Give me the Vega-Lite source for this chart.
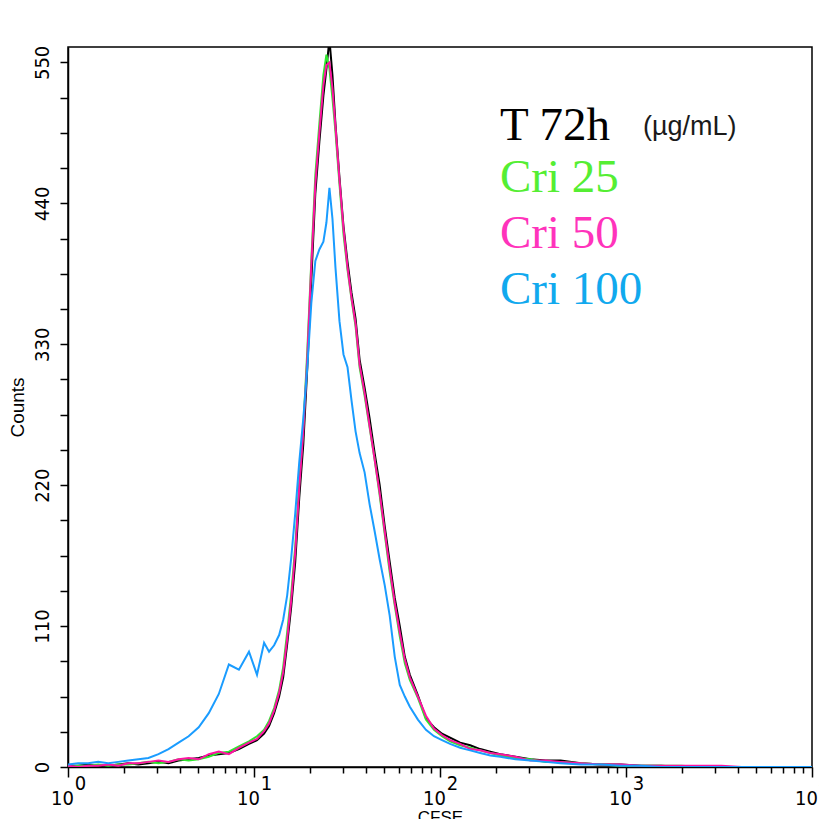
{
  "$schema": "https://vega.github.io/schema/vega-lite/v6.json",
  "width": 744,
  "height": 720,
  "autosize": {"type": "none"},
  "padding": {"left": 68, "top": 47, "right": 7, "bottom": 52},
  "background": "white",
  "config": {"view": {"stroke": "black", "strokeWidth": 1.5, "fill": "white"}},
  "title": {"text": "(µg/mL)", "orient": "top", "anchor": "start", "frame": "group", "font": "Liberation Sans", "fontSize": 27, "fontWeight": "normal", "color": "#1a1a1a", "baseline": "alphabetic", "offset": 0, "dx": 575, "dy": 117},
  "data": {"values": [
    {"x": 1.0, "T 72h": 1, "Cri 25": 0, "Cri 50": 1, "Cri 100": 2},
    {"x": 1.133, "T 72h": 1, "Cri 25": 1, "Cri 50": 0, "Cri 100": 3},
    {"x": 1.283, "T 72h": 2, "Cri 25": 1, "Cri 50": 1, "Cri 100": 3},
    {"x": 1.453, "T 72h": 1, "Cri 25": 2, "Cri 50": 1, "Cri 100": 4},
    {"x": 1.645, "T 72h": 1, "Cri 25": 1, "Cri 50": 2, "Cri 100": 3},
    {"x": 1.864, "T 72h": 2, "Cri 25": 2, "Cri 50": 1, "Cri 100": 4},
    {"x": 2.11, "T 72h": 3, "Cri 25": 2, "Cri 50": 3, "Cri 100": 5},
    {"x": 2.39, "T 72h": 2, "Cri 25": 3, "Cri 50": 3, "Cri 100": 6},
    {"x": 2.706, "T 72h": 3, "Cri 25": 4, "Cri 50": 4, "Cri 100": 7},
    {"x": 3.065, "T 72h": 4, "Cri 25": 3, "Cri 50": 5, "Cri 100": 10},
    {"x": 3.471, "T 72h": 3, "Cri 25": 4, "Cri 50": 4, "Cri 100": 14},
    {"x": 3.932, "T 72h": 5, "Cri 25": 6, "Cri 50": 6, "Cri 100": 19},
    {"x": 4.453, "T 72h": 6, "Cri 25": 5, "Cri 50": 7, "Cri 100": 24},
    {"x": 5.043, "T 72h": 7, "Cri 25": 6, "Cri 50": 6, "Cri 100": 31},
    {"x": 5.712, "T 72h": 9, "Cri 25": 8, "Cri 50": 10, "Cri 100": 42},
    {"x": 6.469, "T 72h": 10, "Cri 25": 11, "Cri 50": 12, "Cri 100": 57},
    {"x": 7.327, "T 72h": 11, "Cri 25": 12, "Cri 50": 10, "Cri 100": 80},
    {"x": 8.297, "T 72h": 14, "Cri 25": 16, "Cri 50": 15, "Cri 100": 76},
    {"x": 9.397, "T 72h": 18, "Cri 25": 20, "Cri 50": 19, "Cri 100": 90},
    {"x": 10.38, "T 72h": 21, "Cri 25": 24, "Cri 50": 22, "Cri 100": 72},
    {"x": 11.33, "T 72h": 26, "Cri 25": 29, "Cri 50": 28, "Cri 100": 97},
    {"x": 12.05, "T 72h": 32, "Cri 25": 36, "Cri 50": 34, "Cri 100": 90},
    {"x": 12.83, "T 72h": 42, "Cri 25": 46, "Cri 50": 44, "Cri 100": 95},
    {"x": 13.65, "T 72h": 55, "Cri 25": 60, "Cri 50": 58, "Cri 100": 103},
    {"x": 14.35, "T 72h": 70, "Cri 25": 78, "Cri 50": 74, "Cri 100": 115},
    {"x": 15.08, "T 72h": 96, "Cri 25": 105, "Cri 50": 100, "Cri 100": 134},
    {"x": 15.85, "T 72h": 125, "Cri 25": 135, "Cri 50": 130, "Cri 100": 163},
    {"x": 16.66, "T 72h": 160, "Cri 25": 172, "Cri 50": 168, "Cri 100": 198},
    {"x": 17.51, "T 72h": 210, "Cri 25": 222, "Cri 50": 218, "Cri 100": 238},
    {"x": 18.41, "T 72h": 252, "Cri 25": 265, "Cri 50": 262, "Cri 100": 272},
    {"x": 19.35, "T 72h": 312, "Cri 25": 325, "Cri 50": 320, "Cri 100": 312},
    {"x": 20.33, "T 72h": 380, "Cri 25": 395, "Cri 50": 392, "Cri 100": 362},
    {"x": 21.37, "T 72h": 448, "Cri 25": 462, "Cri 50": 455, "Cri 100": 395},
    {"x": 22.46, "T 72h": 488, "Cri 25": 502, "Cri 50": 495, "Cri 100": 404},
    {"x": 23.61, "T 72h": 524, "Cri 25": 540, "Cri 50": 532, "Cri 100": 410},
    {"x": 24.51, "T 72h": 545, "Cri 25": 556, "Cri 50": 548, "Cri 100": 425},
    {"x": 25.44, "T 72h": 568, "Cri 25": 545, "Cri 50": 550, "Cri 100": 452},
    {"x": 26.41, "T 72h": 540, "Cri 25": 522, "Cri 50": 530, "Cri 100": 428},
    {"x": 27.41, "T 72h": 502, "Cri 25": 496, "Cri 50": 500, "Cri 100": 390},
    {"x": 28.81, "T 72h": 460, "Cri 25": 455, "Cri 50": 458, "Cri 100": 348},
    {"x": 30.28, "T 72h": 422, "Cri 25": 416, "Cri 50": 420, "Cri 100": 322},
    {"x": 31.83, "T 72h": 394, "Cri 25": 388, "Cri 50": 390, "Cri 100": 312},
    {"x": 33.45, "T 72h": 370, "Cri 25": 365, "Cri 50": 366, "Cri 100": 286},
    {"x": 35.16, "T 72h": 350, "Cri 25": 344, "Cri 50": 346, "Cri 100": 262},
    {"x": 36.96, "T 72h": 318, "Cri 25": 312, "Cri 50": 314, "Cri 100": 245},
    {"x": 39.32, "T 72h": 296, "Cri 25": 290, "Cri 50": 292, "Cri 100": 230},
    {"x": 41.84, "T 72h": 272, "Cri 25": 265, "Cri 50": 266, "Cri 100": 205},
    {"x": 44.53, "T 72h": 245, "Cri 25": 240, "Cri 50": 240, "Cri 100": 184},
    {"x": 47.39, "T 72h": 220, "Cri 25": 212, "Cri 50": 214, "Cri 100": 162},
    {"x": 50.43, "T 72h": 188, "Cri 25": 182, "Cri 50": 184, "Cri 100": 142},
    {"x": 53.67, "T 72h": 160, "Cri 25": 152, "Cri 50": 155, "Cri 100": 118},
    {"x": 57.12, "T 72h": 132, "Cri 25": 126, "Cri 50": 128, "Cri 100": 86},
    {"x": 60.78, "T 72h": 110, "Cri 25": 102, "Cri 50": 105, "Cri 100": 64},
    {"x": 64.69, "T 72h": 86, "Cri 25": 81, "Cri 50": 84, "Cri 100": 55},
    {"x": 68.84, "T 72h": 72, "Cri 25": 68, "Cri 50": 70, "Cri 100": 47},
    {"x": 76.05, "T 72h": 56, "Cri 25": 54, "Cri 50": 55, "Cri 100": 37},
    {"x": 84.01, "T 72h": 38, "Cri 25": 37, "Cri 50": 40, "Cri 100": 29},
    {"x": 92.82, "T 72h": 31, "Cri 25": 29, "Cri 50": 30, "Cri 100": 24},
    {"x": 102.5, "T 72h": 26, "Cri 25": 24, "Cri 50": 25, "Cri 100": 21},
    {"x": 113.3, "T 72h": 23, "Cri 25": 20, "Cri 50": 21, "Cri 100": 18},
    {"x": 128.3, "T 72h": 19, "Cri 25": 17, "Cri 50": 18, "Cri 100": 15},
    {"x": 145.3, "T 72h": 17, "Cri 25": 15, "Cri 50": 14, "Cri 100": 13},
    {"x": 164.5, "T 72h": 14, "Cri 25": 13, "Cri 50": 13, "Cri 100": 11},
    {"x": 186.4, "T 72h": 12, "Cri 25": 11, "Cri 50": 11, "Cri 100": 9},
    {"x": 211.0, "T 72h": 10, "Cri 25": 9, "Cri 50": 10, "Cri 100": 8},
    {"x": 254.4, "T 72h": 8, "Cri 25": 7, "Cri 50": 8, "Cri 100": 6},
    {"x": 306.6, "T 72h": 6, "Cri 25": 6, "Cri 50": 5, "Cri 100": 5},
    {"x": 369.6, "T 72h": 5, "Cri 25": 4, "Cri 50": 5, "Cri 100": 4},
    {"x": 445.3, "T 72h": 5, "Cri 25": 4, "Cri 50": 4, "Cri 100": 3},
    {"x": 571.2, "T 72h": 3, "Cri 25": 3, "Cri 50": 3, "Cri 100": 2},
    {"x": 732.7, "T 72h": 2, "Cri 25": 2, "Cri 50": 2, "Cri 100": 2},
    {"x": 939.7, "T 72h": 2, "Cri 25": 1, "Cri 50": 2, "Cri 100": 1},
    {"x": 1205, "T 72h": 1, "Cri 25": 1, "Cri 50": 1, "Cri 100": 1},
    {"x": 1546, "T 72h": 1, "Cri 25": 1, "Cri 50": 1, "Cri 100": 0},
    {"x": 1983, "T 72h": 0, "Cri 25": 1, "Cri 50": 1, "Cri 100": 0},
    {"x": 2544, "T 72h": 0, "Cri 25": 0, "Cri 50": 1, "Cri 100": 0},
    {"x": 3263, "T 72h": 0, "Cri 25": 0, "Cri 50": 1, "Cri 100": 0},
    {"x": 4184, "T 72h": 0, "Cri 25": 0, "Cri 50": 0, "Cri 100": 0},
    {"x": 10000, "T 72h": 0, "Cri 25": 0, "Cri 50": 0, "Cri 100": 0}
  ]},
  "transform": [{"fold": ["T 72h", "Cri 25", "Cri 50", "Cri 100"], "as": ["series", "count"]}],
  "encoding": {
    "y": {
      "field": "count", "type": "quantitative", "title": "Counts",
      "scale": {"domain": [0, 562], "nice": false},
      "axis": {
        "values": [0,27.5,55,82.5,110,137.5,165,192.5,220,247.5,275,302.5,330,357.5,385,412.5,440,467.5,495,522.5,550],
        "labelExpr": "datum.value % 110 == 0 ? datum.label : ''",
        "grid": false, "domainColor": "black", "domainWidth": 1.5,
        "tickColor": "black", "tickWidth": 1.5, "tickSize": 8,
        "labelAngle": -90, "labelFont": "Liberation Sans Narrow, DejaVu Sans Condensed, Liberation Sans", "labelFontSize": 20, "labelColor": "black", "labelPadding": 8,
        "labelOverlap": false, "labelFlush": false,
        "titleFont": "Liberation Sans", "titleFontSize": 19, "titleFontWeight": "normal", "titleColor": "black", "titlePadding": 5
      }
    },
    "color": {
      "field": "series", "type": "nominal",
      "scale": {"domain": ["T 72h", "Cri 25", "Cri 50", "Cri 100"], "range": ["#000000", "#2EE62E", "#FF12A2", "#1A9CFF"]},
      "legend": {
        "title": "T 72h", "values": ["Cri 25", "Cri 50", "Cri 100"],
        "orient": "none", "legendX": 432, "legendY": 56, "padding": 0,
        "titleFont": "Liberation Serif", "titleFontSize": 47, "titleFontWeight": "normal", "titleColor": "black", "titlePadding": 4, "titleLimit": 500,
        "labelFont": "Liberation Serif", "labelFontSize": 47, "labelOffset": -47, "labelLimit": 500,
        "symbolSize": 0, "symbolStrokeWidth": 0, "symbolOpacity": 0, "rowPadding": 8,
        "encode": {"labels": {"update": {"fill": {"signal": "datum.value == 'Cri 25' ? '#55EE33' : datum.value == 'Cri 50' ? '#FF33BB' : '#11A9EE'"}}}}
      }
    }
  },
  "layer": [
    {
      "transform": [{"filter": "datum.series == 'T 72h'"}],
      "mark": {"type": "line", "clip": true, "strokeWidth": 2},
      "encoding": {"x": {
        "field": "x", "type": "quantitative", "title": "CFSE",
        "scale": {"type": "log", "domain": [1, 10000], "nice": false},
        "axis": {
          "orient": "bottom",
          "values": [1,2,3,4,5,6,7,8,9,10,20,30,40,50,60,70,80,90,100,200,300,400,500,600,700,800,900,1000,2000,3000,4000,5000,6000,7000,8000,9000,10000],
          "labelExpr": "datum.value == 1 || datum.value == 10 || datum.value == 100 || datum.value == 1000 || datum.value == 10000 ? '10' : ''",
          "grid": false, "domainColor": "black", "domainWidth": 1.5,
          "tickColor": "black", "tickWidth": 1.5,
          "tickSize": {"condition": {"test": "datum.value == 1 || datum.value == 10 || datum.value == 100 || datum.value == 1000 || datum.value == 10000", "value": 10}, "value": 6},
          "labelFont": "Liberation Sans Narrow, DejaVu Sans Condensed, Liberation Sans", "labelFontSize": 20, "labelColor": "black", "labelPadding": 11, "labelOffset": -6,
          "labelOverlap": false, "labelFlush": false,
          "titleFont": "Liberation Sans", "titleFontSize": 17, "titleFontWeight": "normal", "titleColor": "black", "titlePadding": 1
        }
      }}
    },
    {
      "transform": [{"filter": "datum.series == 'Cri 25'"}],
      "mark": {"type": "line", "clip": true, "strokeWidth": 2},
      "encoding": {"x": {
        "field": "x", "type": "quantitative", "title": null,
        "scale": {"type": "log", "domain": [1, 10000], "nice": false},
        "axis": {
          "orient": "bottom",
          "values": [1, 10, 100, 1000, 10000],
          "labelExpr": "datum.value == 1 ? '0' : datum.value == 10 ? '1' : datum.value == 100 ? '2' : datum.value == 1000 ? '3' : '4'",
          "grid": false, "domain": false, "ticks": false, "tickSize": 0,
          "labelFont": "Liberation Sans Narrow, DejaVu Sans Condensed, Liberation Sans", "labelFontSize": 20, "labelColor": "black", "labelPadding": 6, "labelOffset": 12,
          "labelOverlap": false, "labelFlush": false
        }
      }}
    },
    {
      "transform": [{"filter": "datum.series == 'Cri 50'"}],
      "mark": {"type": "line", "clip": true, "strokeWidth": 2},
      "encoding": {"x": {"field": "x", "type": "quantitative", "title": null, "scale": {"type": "log", "domain": [1, 10000], "nice": false}, "axis": null}}
    },
    {
      "transform": [{"filter": "datum.series == 'Cri 100'"}],
      "mark": {"type": "line", "clip": true, "strokeWidth": 2},
      "encoding": {"x": {"field": "x", "type": "quantitative", "title": null, "scale": {"type": "log", "domain": [1, 10000], "nice": false}, "axis": null}}
    }
  ],
  "resolve": {"axis": {"x": "independent"}}
}
